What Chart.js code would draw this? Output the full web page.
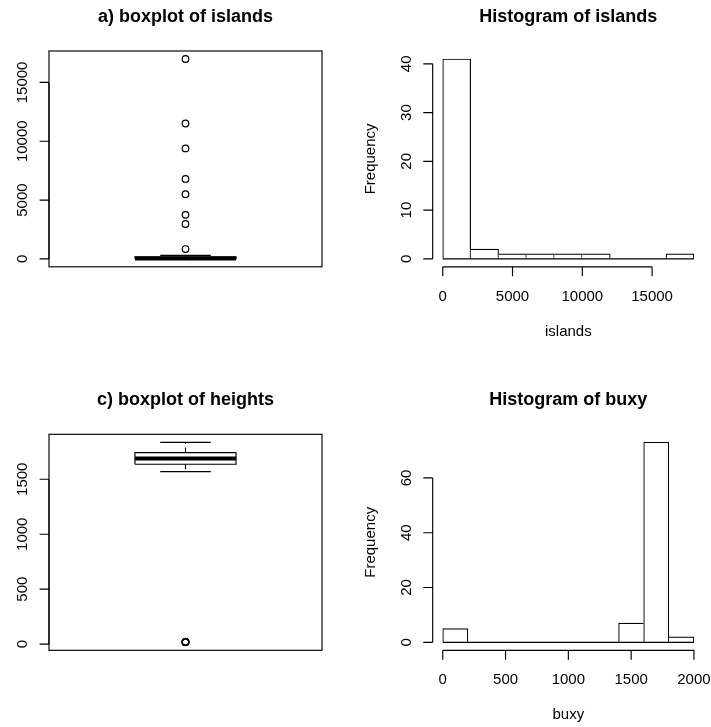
<!DOCTYPE html>
<html>
<head>
<meta charset="utf-8">
<script src="https://cdn.jsdelivr.net/npm/chart.js@4.4.1/dist/chart.umd.min.js"></script>
<style>
html,body{margin:0;padding:0;background:#fff;}
#wrap{position:relative;width:711px;height:727px;overflow:hidden;}
#wrap canvas{position:absolute;left:0;top:0;}
</style>
</head>
<body>
<div id="wrap">
<canvas id="c1" width="711" height="727"></canvas>
<canvas id="c2" width="711" height="727"></canvas>
<canvas id="c3" width="711" height="727"></canvas>
<canvas id="c4" width="711" height="727"></canvas>
</div>
<script>
// ---------- data ----------
const titles = ['a) boxplot of islands', 'Histogram of islands', 'c) boxplot of heights', 'Histogram of buxy'];

// boxplot stats: [lower whisker, Q1, median, Q3, upper whisker]
const islandsBoxStats = [12, 20.5, 41, 183.25, 306];
const islandsOutliers = [840, 2968, 3745, 5500, 6795, 9390, 11506, 16988];
const islandsBoxYTicks = [0, 5000, 10000, 15000];

const islandsBreaks = [0, 2000, 4000, 6000, 8000, 10000, 12000, 14000, 16000, 18000];
const islandsCounts = [41, 2, 1, 1, 1, 1, 0, 0, 1];
const islandsHistXTicks = [0, 5000, 10000, 15000];
const islandsHistYTicks = [0, 10, 20, 30, 40];

const heightsBoxStats = [1569, 1636, 1688, 1742, 1836];
const heightsOutliers = [17, 18, 19, 21, 23];
const heightsBoxYTicks = [0, 500, 1000, 1500];

const buxyBreaks = [0, 200, 400, 600, 800, 1000, 1200, 1400, 1600, 1800, 2000];
const buxyCounts = [5, 0, 0, 0, 0, 0, 0, 7, 73, 2];
const buxyHistXTicks = [0, 500, 1000, 1500, 2000];
const buxyHistYTicks = [0, 20, 40, 60];

const histXLabels = ['islands', 'buxy'];
const histYLabel = 'Frequency';

// ---------- layout / style ----------
const W = 711, H = 727;
const FONT = '"Liberation Sans", Arial, Helvetica, sans-serif';
const AREAS = {
  tl: {left: 49, right: 322, top: 51, bottom: 266.8},
  tr: {left: 432.7, right: 704, top: 51, bottom: 266.8},
  bl: {left: 49, right: 322, top: 434.3, bottom: 650.3},
  br: {left: 432.7, right: 704, top: 434.3, bottom: 650.3}
};
const TICK_LEN = 9.4;
const LW = 1.15;
const boxCenter = 1, boxHalf = 0.2, stapleHalf = 0.1;

function padFor(a) { return {left: a.left, top: a.top, right: W - a.right, bottom: H - a.bottom}; }
function padRange(lo, hi) { const d = (hi - lo) * 0.04; return [lo - d, hi + d]; }

// R-style axes / titles drawn from the chart's own scales
const rAxes = {
  id: 'rAxes',
  afterDraw(chart, args, o) {
    const ctx = chart.ctx, a = chart.chartArea, xs = chart.scales.x, ys = chart.scales.y;
    ctx.save();
    ctx.strokeStyle = '#000';
    ctx.fillStyle = '#000';
    ctx.lineWidth = LW;
    // title
    ctx.font = 'bold 18px ' + FONT;
    ctx.textAlign = 'center';
    ctx.textBaseline = 'alphabetic';
    ctx.fillText(o.title, (a.left + a.right) / 2, a.top - 29.3);
    // box
    if (o.box) {
      ctx.strokeRect(a.left, a.top, a.right - a.left, a.bottom - a.top);
    }
    ctx.font = '15px ' + FONT;
    // y axis
    if (o.yTicks) {
      const p0 = ys.getPixelForValue(o.yTicks[0]);
      const p1 = ys.getPixelForValue(o.yTicks[o.yTicks.length - 1]);
      ctx.beginPath();
      ctx.moveTo(a.left, p0); ctx.lineTo(a.left, p1);
      o.yTicks.forEach(v => {
        const p = ys.getPixelForValue(v);
        ctx.moveTo(a.left, p); ctx.lineTo(a.left - TICK_LEN, p);
      });
      ctx.stroke();
      o.yTicks.forEach(v => {
        const p = ys.getPixelForValue(v);
        ctx.save();
        ctx.translate(a.left - 21.6, p);
        ctx.rotate(-Math.PI / 2);
        ctx.textAlign = 'center';
        ctx.fillText(String(v), 0, 0);
        ctx.restore();
      });
    }
    // x axis
    if (o.xTicks) {
      const p0 = xs.getPixelForValue(o.xTicks[0]);
      const p1 = xs.getPixelForValue(o.xTicks[o.xTicks.length - 1]);
      ctx.beginPath();
      ctx.moveTo(p0, a.bottom); ctx.lineTo(p1, a.bottom);
      o.xTicks.forEach(v => {
        const p = xs.getPixelForValue(v);
        ctx.moveTo(p, a.bottom); ctx.lineTo(p, a.bottom + TICK_LEN);
      });
      ctx.stroke();
      ctx.textAlign = 'center';
      o.xTicks.forEach(v => {
        ctx.fillText(String(v), xs.getPixelForValue(v), a.bottom + 34);
      });
    }
    if (o.xLabel) {
      ctx.textAlign = 'center';
      ctx.fillText(o.xLabel, (a.left + a.right) / 2, a.bottom + 69);
    }
    if (o.yLabel) {
      ctx.save();
      ctx.translate(a.left - 58, (a.top + a.bottom) / 2);
      ctx.rotate(-Math.PI / 2);
      ctx.textAlign = 'center';
      ctx.fillText(o.yLabel, 0, 0);
      ctx.restore();
    }
    ctx.restore();
  }
};

function lineDs(pts, extra) {
  return Object.assign({
    type: 'scatter', data: pts, showLine: true, pointRadius: 0,
    borderColor: '#000', borderWidth: LW, fill: false, tension: 0
  }, extra || {});
}

function boxDatasets(stats, outliers) {
  const [lw, q1, med, q3, uw] = stats;
  const L = boxCenter - boxHalf, R = boxCenter + boxHalf;
  const sL = boxCenter - stapleHalf, sR = boxCenter + stapleHalf;
  return [
    lineDs([{x: boxCenter, y: q3}, {x: boxCenter, y: uw}], {borderDash: [5, 4]}),
    lineDs([{x: boxCenter, y: q1}, {x: boxCenter, y: lw}], {borderDash: [5, 4]}),
    lineDs([{x: sL, y: uw}, {x: sR, y: uw}]),
    lineDs([{x: sL, y: lw}, {x: sR, y: lw}]),
    lineDs([{x: L, y: q1}, {x: R, y: q1}, {x: R, y: q3}, {x: L, y: q3}, {x: L, y: q1}]),
    lineDs([{x: L, y: med}, {x: R, y: med}], {borderWidth: 4, borderCapStyle: 'butt'}),
    {
      type: 'scatter', data: outliers.map(v => ({x: boxCenter, y: v})),
      pointStyle: 'circle', pointRadius: 3.3, pointBorderWidth: 1.2,
      borderColor: '#000', backgroundColor: 'rgba(0,0,0,0)', showLine: false
    }
  ];
}

function boxChart(id, area, stats, outliers, yTicks, title) {
  const all = stats.concat(outliers);
  const [ymin, ymax] = padRange(Math.min.apply(null, all), Math.max.apply(null, all));
  const [xmin, xmax] = padRange(0.5, 1.5);
  return new Chart(document.getElementById(id), {
    type: 'scatter',
    data: {datasets: boxDatasets(stats, outliers)},
    options: {
      responsive: false, animation: false, events: [],
      layout: {padding: padFor(area)},
      plugins: {legend: {display: false}, tooltip: {enabled: false},
        rAxes: {title: title, box: true, yTicks: yTicks}},
      scales: {
        x: {type: 'linear', display: false, min: xmin, max: xmax},
        y: {type: 'linear', display: false, min: ymin, max: ymax}
      }
    },
    plugins: [rAxes]
  });
}

function histChart(id, area, breaks, counts, xTicks, yTicks, title, xLabel) {
  const [xmin, xmax] = padRange(breaks[0], breaks[breaks.length - 1]);
  const [ymin, ymax] = padRange(0, Math.max.apply(null, counts));
  const n = counts.length;
  const bars = counts.map((c, i) => ({x: (breaks[i] + breaks[i + 1]) / 2, y: c}));
  return new Chart(document.getElementById(id), {
    type: 'bar',
    data: {
      datasets: [
        {
          type: 'bar', data: bars, order: 1,
          backgroundColor: '#fff', borderColor: '#000',
          borderSkipped: false,
          borderWidth: (ctx) => {
            const i = ctx.dataIndex;
            return {
              top: LW,
              bottom: 0,
              left: (i === 0 || counts[i - 1] < counts[i]) ? LW : 0,
              right: (i === n - 1 || counts[i + 1] <= counts[i]) ? LW : 0
            };
          },
          barPercentage: 1, categoryPercentage: 1, grouped: false
        },
        lineDs([{x: breaks[0], y: 0}, {x: breaks[breaks.length - 1], y: 0}], {type: 'line', order: 0})
      ]
    },
    options: {
      responsive: false, animation: false, events: [],
      layout: {padding: padFor(area)},
      plugins: {legend: {display: false}, tooltip: {enabled: false},
        rAxes: {title: title, box: false, xTicks: xTicks, yTicks: yTicks, xLabel: xLabel, yLabel: histYLabel}},
      scales: {
        x: {type: 'linear', display: false, min: xmin, max: xmax, offset: false,
            afterBuildTicks: (scale) => { scale.ticks = breaks.map(v => ({value: v})); }},
        y: {type: 'linear', display: false, min: ymin, max: ymax}
      }
    },
    plugins: [rAxes]
  });
}

boxChart('c1', AREAS.tl, islandsBoxStats, islandsOutliers, islandsBoxYTicks, titles[0]);
histChart('c2', AREAS.tr, islandsBreaks, islandsCounts, islandsHistXTicks, islandsHistYTicks, titles[1], histXLabels[0]);
boxChart('c3', AREAS.bl, heightsBoxStats, heightsOutliers, heightsBoxYTicks, titles[2]);
histChart('c4', AREAS.br, buxyBreaks, buxyCounts, buxyHistXTicks, buxyHistYTicks, titles[3], histXLabels[1]);
</script>
</body>
</html>
